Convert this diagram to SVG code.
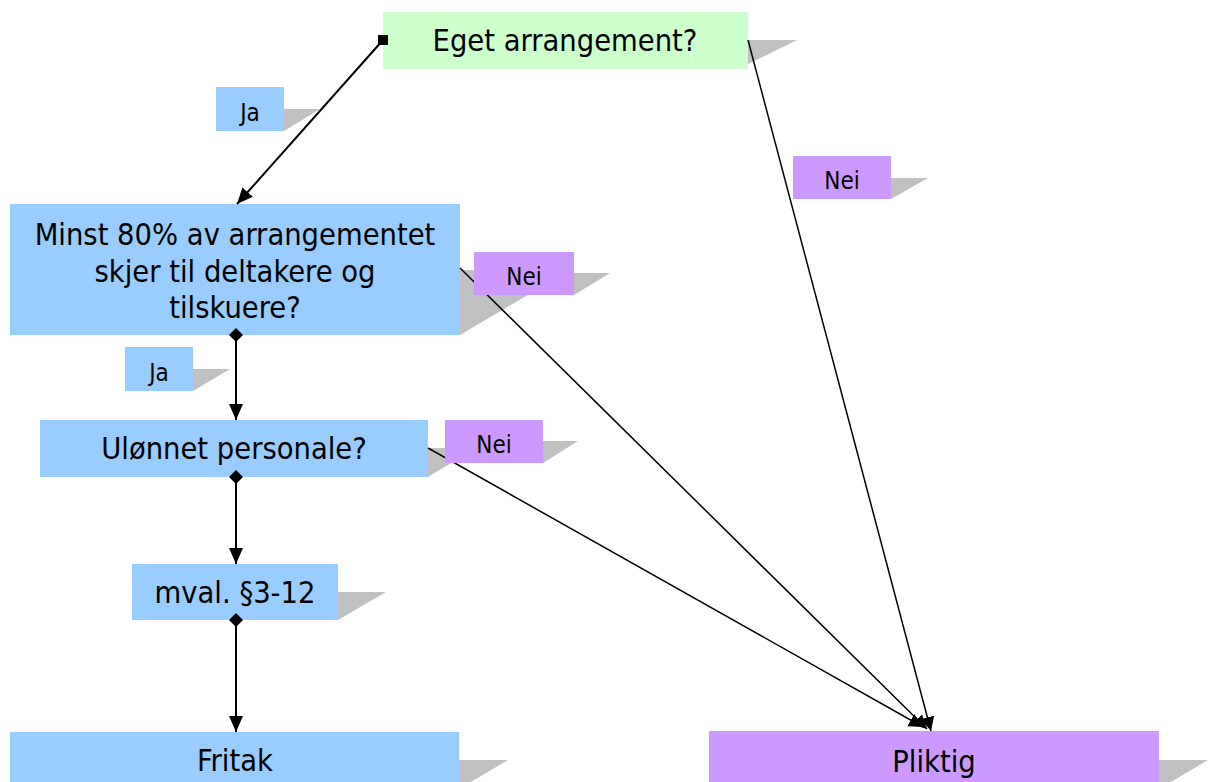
<svg xmlns="http://www.w3.org/2000/svg" width="1220" height="782" viewBox="0 0 1220 782">
<style>
.sh{fill:#c0c0c0}
.blue{fill:#99ccff}
.green{fill:#ccffcc}
.purple{fill:#cc99ff}
.t{font-family:"DejaVu Sans Condensed","DejaVu Sans",sans-serif;font-size:30.5px;fill:#000;text-anchor:middle}
.s{font-family:"DejaVu Sans Condensed","DejaVu Sans",sans-serif;font-size:24px;fill:#000;text-anchor:middle}
.thick{stroke:#000;stroke-width:2;fill:none}
.thin{stroke:#000;stroke-width:1.5;fill:none}
</style>
<defs>
<marker id="arr" markerUnits="userSpaceOnUse" markerWidth="18" markerHeight="18" refX="16" refY="7" orient="auto" viewBox="0 0 18 18">
<path d="M0,0 L16,7 L0,14 z" fill="#000"/>
</marker>
<marker id="arr2" markerUnits="userSpaceOnUse" markerWidth="16" markerHeight="16" refX="14" refY="7" orient="auto" viewBox="0 0 16 16">
<path d="M0,0 L14,7 L0,14 z" fill="#000"/>
</marker>
<marker id="dia" markerUnits="userSpaceOnUse" markerWidth="16" markerHeight="16" refX="7" refY="7" orient="auto" viewBox="0 0 16 16">
<path d="M0,7 L7,0 L14,7 L7,14 z" fill="#000"/>
</marker>
<marker id="sq" markerUnits="userSpaceOnUse" markerWidth="12" markerHeight="12" refX="5" refY="5" orient="0" viewBox="0 0 12 12">
<rect x="0" y="0" width="10" height="10" fill="#000"/>
</marker>
</defs>

<g id="eget">
<polygon class="sh" points="748,40 797,40 748,64"/>
<rect class="green" x="383" y="12" width="365" height="57"/>
<text class="t" x="565" y="51">Eget arrangement?</text>
</g>
<g id="minst">
<polygon class="sh" points="460,270 570,270 460,335"/>
<rect class="blue" x="10" y="204" width="450" height="131"/>
<text class="t" x="235" y="245">Minst 80% av arrangementet</text>
<text class="t" x="235" y="282">skjer til deltakere og</text>
<text class="t" x="235" y="318">tilskuere?</text>
</g>
<g id="ulonnet">
<polygon class="sh" points="428,448 476,448 428,477"/>
<rect class="blue" x="40" y="420" width="388" height="57"/>
<text class="t" x="234" y="459">Ulønnet personale?</text>
</g>
<g id="mval">
<polygon class="sh" points="338,592 386,592 338,620"/>
<rect class="blue" x="132" y="564" width="206" height="56"/>
<text class="t" x="235" y="603">mval. §3-12</text>
</g>
<g id="fritak">
<polygon class="sh" points="459,760 508,760 459,789"/>
<rect class="blue" x="10" y="732" width="449" height="57"/>
<text class="t" x="235" y="771">Fritak</text>
</g>
<g id="pliktig">
<polygon class="sh" points="1159,760 1208,760 1159,789"/>
<rect class="purple" x="709" y="731" width="450" height="57"/>
<text class="t" x="934" y="772">Pliktig</text>
</g>

<g id="connectors">
<line class="thick" x1="383" y1="40" x2="237" y2="204" marker-start="url(#sq)" marker-end="url(#arr)"/>
<line class="thick" x1="236" y1="335" x2="236" y2="420" marker-start="url(#dia)" marker-end="url(#arr)"/>
<line class="thick" x1="236" y1="477" x2="236" y2="564" marker-start="url(#dia)" marker-end="url(#arr)"/>
<line class="thick" x1="236" y1="620" x2="236" y2="732" marker-start="url(#dia)" marker-end="url(#arr)"/>
<line class="thin" x1="748" y1="40" x2="931" y2="731" marker-end="url(#arr2)"/>
<line class="thin" x1="460" y1="268" x2="927" y2="729" marker-end="url(#arr2)"/>
<line class="thin" x1="428" y1="448" x2="923" y2="727" marker-end="url(#arr2)"/>
</g>

<g id="lbl-ja1">
<polygon class="sh" points="284,109 320,109 284,131"/>
<rect class="blue" x="216" y="87" width="68" height="44"/>
<text class="s" x="250" y="121">Ja</text>
</g>
<g id="lbl-nei1">
<polygon class="sh" points="891,178 928,178 891,199"/>
<rect class="purple" x="793" y="156" width="98" height="43"/>
<text class="s" x="842" y="189">Nei</text>
</g>
<g id="lbl-nei2">
<polygon class="sh" points="574,273 610,273 574,295"/>
<rect class="purple" x="474" y="252" width="100" height="43"/>
<text class="s" x="524" y="285">Nei</text>
</g>
<g id="lbl-ja2">
<polygon class="sh" points="193,369 230,369 193,391"/>
<rect class="blue" x="125" y="347" width="68" height="44"/>
<text class="s" x="159" y="381">Ja</text>
</g>
<g id="lbl-nei3">
<polygon class="sh" points="543,441 578,441 543,463"/>
<rect class="purple" x="445" y="420" width="98" height="43"/>
<text class="s" x="494" y="453">Nei</text>
</g>
</svg>
